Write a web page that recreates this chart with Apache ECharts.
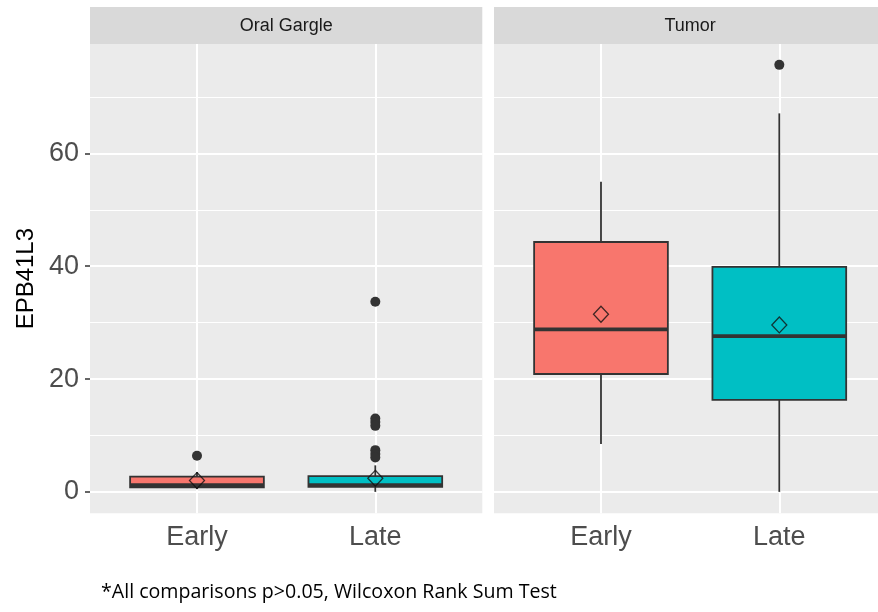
<!DOCTYPE html>
<html>
<head>
<meta charset="utf-8">
<script src="https://cdn.jsdelivr.net/npm/echarts@6/dist/echarts.min.js"></script>
<style>
  html, body { margin: 0; padding: 0; background: #ffffff; }
  #chart { width: 878px; height: 612px; }
</style>
</head>
<body>
<div id="chart"></div>
<script>
// ---- data ----
const categories = ['Early', 'Late'];
const panels = ['Oral Gargle', 'Tumor'];
const fillColors = ['#F8766D', '#00BFC4'];
// each box: [lower whisker, Q1, median, Q3, upper whisker]
const oralBoxes = [[0.5, 0.8, 1.2, 2.7, 3.5], [0, 0.9, 1.2, 2.8, 4.7]];
const tumorBoxes = [[8.5, 20.9, 28.8, 44.3, 55.0], [0, 16.3, 27.6, 39.9, 67.1]];
const oralMeans = [2.0, 2.4];
const tumorMeans = [31.5, 29.6];
const oralOutliersEarly = [6.4];
const oralOutliersLate = [33.7, 13.0, 12.4, 11.7, 7.4, 6.7, 6.1];
const tumorOutliersEarly = [];
const tumorOutliersLate = [75.7];
const yTicks = [0, 20, 40, 60];
const yMinor = [10, 30, 50, 70];
const yName = 'EPB41L3';
const footnote = '*All comparisons p>0.05, Wilcoxon Rank Sum Test';

// ---- helpers ----
const panelBoxes = [oralBoxes, tumorBoxes];
const panelMeans = [oralMeans, tumorMeans];
const panelOutliers = [[oralOutliersEarly, oralOutliersLate], [tumorOutliersEarly, tumorOutliersLate]];

const gridDefs = [
  { left: 90, top: 44, width: 392.3, height: 469.3 },
  { left: 494, top: 44, width: 392.3, height: 469.3 }
];
const stripDefs = [{ x: 90, w: 392.3 }, { x: 494, w: 392.3 }];

const xAxes = gridDefs.map((g, i) => ({
  type: 'value', gridIndex: i, min: 0.4, max: 2.6,
  axisLine: { show: false },
  splitLine: { show: false },
  axisTick: { show: true, customValues: [1, 2], length: 4, lineStyle: { color: '#333333', width: 1.5 } },
  axisLabel: {
    show: true, customValues: [1, 2], margin: 11,
    formatter: v => categories[Math.round(v) - 1] || '',
    fontSize: 27, color: '#4d4d4d', fontFamily: 'Liberation Sans, Arial, sans-serif'
  }
}));

const yAxes = gridDefs.map((g, i) => ({
  type: 'value', gridIndex: i, min: -3.8, max: 79.4,
  axisLine: { show: false },
  splitLine: { show: false },
  axisTick: { show: i === 0, customValues: yTicks, length: 5, lineStyle: { color: '#333333', width: 1.5 } },
  axisLabel: {
    show: i === 0, customValues: yTicks, margin: 11,
    fontSize: 27, color: '#4d4d4d', fontFamily: 'Liberation Sans, Arial, sans-serif'
  },
  name: i === 0 ? yName : '',
  nameLocation: 'middle', nameRotate: 90, nameGap: 52,
  nameTextStyle: { fontSize: 24, color: '#000000', fontFamily: 'Liberation Sans, Arial, sans-serif' }
}));

const series = [];
panels.forEach((p, i) => {
  // grid lines (drawn through the axes' scales)
  const lines = [];
  yMinor.forEach(v => lines.push({ yAxis: v, lineStyle: { width: 1 } }));
  yTicks.forEach(v => lines.push({ yAxis: v, lineStyle: { width: 2 } }));
  [1, 2].forEach(v => lines.push({ xAxis: v, lineStyle: { width: 2 } }));
  series.push({
    type: 'scatter', xAxisIndex: i, yAxisIndex: i, data: [], z: 1, silent: true,
    markLine: {
      silent: true, symbol: 'none', animation: false, z: 1,
      label: { show: false },
      lineStyle: { color: '#ffffff', type: 'solid' },
      data: lines
    }
  });
  // boxes
  series.push({
    type: 'custom', xAxisIndex: i, yAxisIndex: i, z: 6, animation: false,
    data: panelBoxes[i].map((b, k) => ({ value: [k + 1].concat(b), itemStyle: { color: fillColors[k] } })),
    renderItem: function (params, api) {
      const x = api.value(0);
      const lo = api.coord([x, api.value(1)]);
      const q1 = api.coord([x, api.value(2)]);
      const md = api.coord([x, api.value(3)]);
      const q3 = api.coord([x, api.value(4)]);
      const hi = api.coord([x, api.value(5)]);
      const w = api.size([0.75, 0])[0];
      const left = lo[0] - w / 2;
      const stroke = '#333333';
      return {
        type: 'group',
        children: [
          { type: 'line', shape: { x1: lo[0], y1: lo[1], x2: lo[0], y2: q1[1] }, style: { stroke: stroke, lineWidth: 1.8 } },
          { type: 'line', shape: { x1: hi[0], y1: hi[1], x2: hi[0], y2: q3[1] }, style: { stroke: stroke, lineWidth: 1.8 } },
          { type: 'rect', shape: { x: left, y: q3[1], width: w, height: q1[1] - q3[1] }, style: { fill: api.visual('color'), stroke: stroke, lineWidth: 1.8 } },
          { type: 'line', shape: { x1: left, y1: md[1], x2: left + w, y2: md[1] }, style: { stroke: stroke, lineWidth: 3.8 } }
        ]
      };
    }
  });
  // outliers
  const outs = [];
  panelOutliers[i].forEach((arr, k) => arr.forEach(v => outs.push([k + 1, v])));
  series.push({
    type: 'scatter', xAxisIndex: i, yAxisIndex: i, z: 7, animation: false,
    symbol: 'circle', symbolSize: 10,
    itemStyle: { color: '#333333', opacity: 1 },
    data: outs
  });
  // means
  series.push({
    type: 'scatter', xAxisIndex: i, yAxisIndex: i, z: 8, animation: false,
    symbol: 'diamond', symbolSize: [15, 16],
    itemStyle: { color: 'rgba(0,0,0,0)', borderColor: '#111111', borderWidth: 1.3 },
    data: panelMeans[i].map((v, k) => [k + 1, v])
  });
});

const graphics = [];
stripDefs.forEach((g, i) => {
  graphics.push({
    type: 'rect', left: g.x, top: 7, shape: { width: g.w, height: 37 },
    style: { fill: '#d9d9d9' }, silent: true, z: 0
  });
  graphics.push({
    type: 'text', x: g.x + g.w / 2, y: 26,
    style: { text: panels[i], fill: '#1a1a1a', fontSize: 18, fontFamily: 'Liberation Sans, Arial, sans-serif', align: 'center', verticalAlign: 'middle' },
    silent: true, z: 1
  });
});
graphics.push({
  type: 'text', x: 101, y: 592,
  style: { text: footnote, fill: '#000000', fontSize: 19.6, fontFamily: 'Open Sans, sans-serif', align: 'left', verticalAlign: 'middle' },
  silent: true
});

const chart = echarts.init(document.getElementById('chart'), null, { renderer: 'canvas' });
chart.setOption({
  animation: false,
  backgroundColor: '#ffffff',
  grid: gridDefs.map(g => Object.assign({ show: true, backgroundColor: '#ebebeb', borderWidth: 0, containLabel: false, outerBoundsMode: 'none' }, g)),
  xAxis: xAxes,
  yAxis: yAxes,
  graphic: graphics,
  series: series
});
</script>
</body>
</html>
